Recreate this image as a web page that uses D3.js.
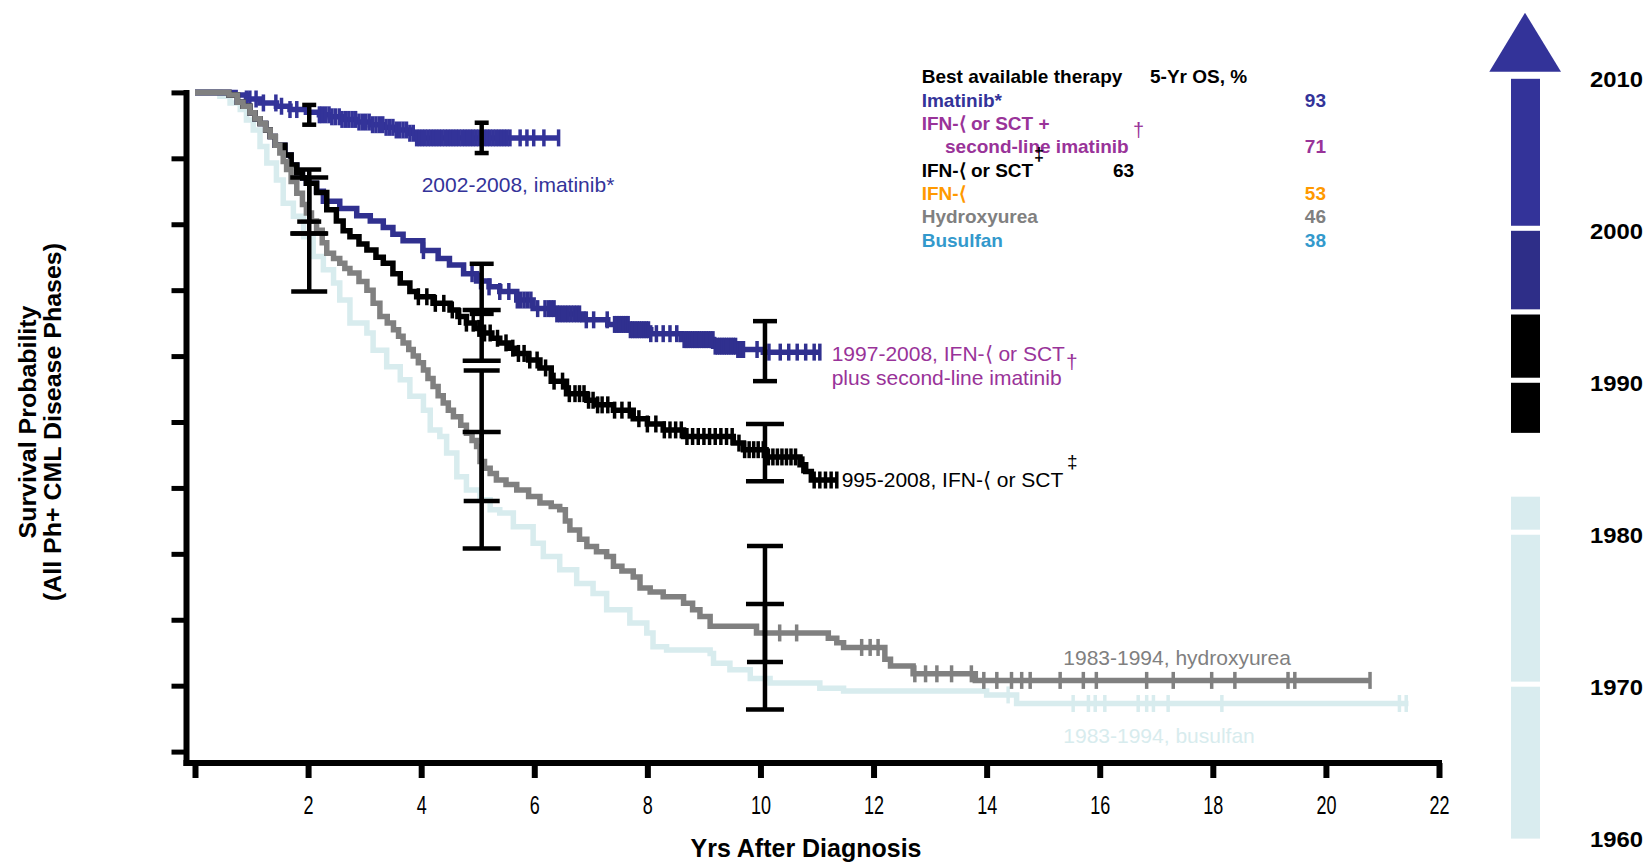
<!DOCTYPE html>
<html><head><meta charset="utf-8">
<script src="https://cdn.jsdelivr.net/npm/d3@7"></script>
<style>
html,body{margin:0;padding:0;background:#fff;}
svg{display:block;background:#fff;}
text{font-family:"Liberation Sans",Arial,Helvetica,sans-serif;}
</style></head><body>
<svg id="chart" width="1646" height="864"></svg>
<script>
// ---------------- DATA ----------------
const xTicks = [0,2,4,6,8,10,12,14,16,18,20,22];
const xTickLabels = ["","2","4","6","8","10","12","14","16","18","20","22"];
const yTicks = [0,0.1,0.2,0.3,0.4,0.5,0.6,0.7,0.8,0.9,1.0];

// Kaplan-Meier steps: [years, survival]
const imatinibSteps = [[0,1],[0.71,0.996],[0.91,0.99],[1.15,0.984],[1.44,0.979],[1.68,0.974],[1.97,0.97],[2.2,0.966],[2.39,0.963],[2.6,0.959],[2.86,0.955],[3.1,0.951],[3.33,0.947],[3.55,0.943],[3.8,0.938],[3.92,0.931]];
const imatinibEnd = 6.45;
const imatinibCensor = [0.91,0.97,1.08,1.21,1.43,1.53,1.68,1.8,2.2,2.25,2.31,2.37,2.42,2.48,2.55,2.6,2.66,2.72,2.78,2.84,2.9,2.96,3.02,3.08,3.14,3.2,3.26,3.32,3.38,3.44,3.5,3.56,3.62,3.68,3.74,3.8,3.86,3.92,3.97,4.02,4.07,4.12,4.17,4.22,4.27,4.32,4.37,4.42,4.47,4.52,4.57,4.62,4.67,4.72,4.77,4.82,4.87,4.92,4.97,5.02,5.07,5.12,5.17,5.22,5.27,5.32,5.37,5.42,5.47,5.52,5.57,5.75,5.87,5.99,6.17,6.43];

const secondLineSteps = [[0,1],[0.6,0.996],[0.75,0.985],[0.85,0.979],[0.97,0.969],[1.06,0.96],[1.15,0.953],[1.25,0.943],[1.33,0.933],[1.42,0.92],[1.59,0.905],[1.7,0.89],[1.8,0.878],[1.9,0.87],[1.97,0.862],[2.15,0.85],[2.27,0.835],[2.56,0.824],[2.86,0.813],[3.1,0.805],[3.33,0.795],[3.5,0.785],[3.68,0.775],[4.03,0.76],[4.3,0.748],[4.5,0.738],[4.75,0.725],[4.98,0.714],[5.2,0.705],[5.39,0.698],[5.69,0.685],[5.98,0.672],[6.4,0.664],[6.86,0.655],[7.3,0.648],[7.7,0.64],[8.06,0.634],[8.6,0.625],[9.17,0.615],[9.6,0.61],[10.05,0.606]];
const secondLineEnd = 11.05;
const secondLineCensor = [4.04,4.9,5.05,5.2,5.39,5.55,5.7,5.76,5.82,5.88,5.94,6.06,6.19,6.25,6.3,6.35,6.4,6.45,6.5,6.55,6.6,6.65,6.7,6.75,6.8,6.92,7.05,7.29,7.42,7.46,7.5,7.54,7.58,7.62,7.66,7.7,7.74,7.78,7.82,7.86,7.9,7.94,7.98,8.02,8.06,8.16,8.28,8.4,8.52,8.65,8.69,8.72,8.76,8.8,8.84,8.88,8.92,8.96,9.0,9.04,9.08,9.12,9.16,9.2,9.24,9.28,9.32,9.36,9.4,9.44,9.48,9.52,9.56,9.6,9.65,9.7,9.94,10.15,10.35,10.5,10.65,10.8,10.95,11.05];

const ifnSteps = [[0,1],[0.6,0.996],[0.75,0.985],[0.85,0.979],[0.97,0.969],[1.06,0.96],[1.15,0.953],[1.25,0.943],[1.33,0.933],[1.42,0.92],[1.59,0.905],[1.7,0.89],[1.8,0.878],[1.9,0.87],[1.97,0.862],[2.15,0.848],[2.33,0.822],[2.5,0.805],[2.62,0.79],[2.74,0.781],[2.9,0.77],[3.04,0.761],[3.2,0.75],[3.33,0.741],[3.5,0.725],[3.63,0.711],[3.8,0.698],[3.92,0.69],[4.21,0.68],[4.51,0.67],[4.65,0.66],[4.8,0.65],[4.95,0.642],[5.1,0.635],[5.25,0.627],[5.39,0.62],[5.55,0.612],[5.69,0.604],[5.9,0.594],[6.1,0.582],[6.3,0.562],[6.57,0.543],[6.93,0.533],[7.1,0.526],[7.4,0.518],[7.75,0.505],[8.0,0.497],[8.28,0.488],[8.64,0.478],[9.52,0.468],[9.7,0.458],[10.1,0.447],[10.7,0.435],[10.8,0.425],[10.9,0.412]];
const ifnEnd = 11.35;
const ifnCensor = [3.95,4.1,4.25,4.4,4.55,4.68,4.8,4.92,5.02,5.12,5.22,5.35,5.5,5.62,5.72,5.82,5.92,6.05,6.2,6.35,6.5,6.62,6.72,6.8,6.88,6.96,7.04,7.12,7.2,7.3,7.42,7.55,7.68,7.85,8.0,8.15,8.3,8.4,8.5,8.6,8.7,8.8,8.9,9.0,9.1,9.2,9.3,9.4,9.5,9.62,9.72,9.8,9.88,9.96,10.05,10.14,10.22,10.3,10.38,10.46,10.54,10.62,10.75,10.95,11.05,11.15,11.25,11.35];

const hydroxySteps = [[0,1],[0.6,0.996],[0.75,0.985],[0.85,0.979],[0.97,0.969],[1.06,0.96],[1.15,0.953],[1.25,0.943],[1.33,0.933],[1.42,0.92],[1.5,0.908],[1.56,0.895],[1.62,0.883],[1.7,0.865],[1.8,0.847],[1.9,0.83],[1.97,0.817],[2.06,0.805],[2.15,0.791],[2.25,0.772],[2.33,0.756],[2.45,0.748],[2.56,0.741],[2.65,0.733],[2.74,0.726],[2.9,0.713],[3.04,0.7],[3.15,0.68],[3.27,0.66],[3.4,0.65],[3.51,0.64],[3.6,0.63],[3.68,0.62],[3.78,0.61],[3.86,0.6],[3.95,0.59],[4.04,0.579],[4.12,0.566],[4.21,0.554],[4.3,0.54],[4.39,0.529],[4.48,0.518],[4.57,0.508],[4.7,0.495],[4.8,0.483],[4.9,0.472],[4.98,0.463],[5.04,0.44],[5.12,0.43],[5.22,0.422],[5.33,0.412],[5.5,0.405],[5.69,0.397],[5.9,0.387],[6.1,0.377],[6.3,0.372],[6.45,0.367],[6.55,0.35],[6.63,0.336],[6.8,0.322],[6.93,0.311],[7.1,0.303],[7.28,0.296],[7.4,0.281],[7.55,0.274],[7.75,0.265],[7.87,0.248],[8.05,0.242],[8.28,0.235],[8.64,0.225],[8.8,0.215],[8.93,0.205],[9.11,0.19],[9.93,0.18],[11.2,0.172],[11.35,0.165],[11.47,0.158],[12.2,0.14],[12.3,0.13],[12.7,0.118],[13.8,0.108]];
const hydroxyEnd = 20.78;
const hydroxyCensor = [10.34,10.64,11.79,11.94,12.08,12.73,12.92,13.12,13.38,13.73,13.95,14.18,14.44,14.62,14.77,15.3,15.71,15.94,16.83,17.3,17.98,18.39,19.33,19.45,20.78];

const busulfanSteps = [[0,1],[0.44,0.994],[0.62,0.984],[0.8,0.974],[0.91,0.958],[1.03,0.943],[1.15,0.918],[1.27,0.893],[1.44,0.867],[1.56,0.832],[1.74,0.812],[1.92,0.781],[2.09,0.751],[2.27,0.731],[2.45,0.711],[2.56,0.685],[2.74,0.65],[3.04,0.635],[3.15,0.609],[3.39,0.584],[3.63,0.564],[3.8,0.539],[4.04,0.518],[4.16,0.488],[4.33,0.478],[4.45,0.453],[4.63,0.417],[4.8,0.397],[5.04,0.382],[5.22,0.367],[5.39,0.362],[5.63,0.341],[5.98,0.316],[6.16,0.296],[6.45,0.276],[6.75,0.255],[7.04,0.24],[7.28,0.215],[7.69,0.195],[7.99,0.18],[8.1,0.159],[8.34,0.154],[9.11,0.149],[9.17,0.134],[9.46,0.124],[9.82,0.111],[10.17,0.104],[11.05,0.096],[11.47,0.092],[14.0,0.086],[14.53,0.073]];
const busulfanEnd = 21.46;
const busulfanCensor = [14.38,15.53,15.8,15.92,16.09,16.68,16.83,16.95,17.21,18.16,21.3,21.42];

// error bars: [series, years, low, high]
const errorBars = [
  ["imatinib",2.02,0.951,0.981],["imatinib",5.07,0.908,0.954],
  ["second",2.02,0.804,0.883],["ifn",2.02,0.786,0.871],["hydroxy",2.02,0.698,0.786],
  ["second",5.07,0.664,0.740],["ifn",5.07,0.593,0.670],["hydroxy",5.07,0.380,0.578],["busulfan",5.07,0.308,0.485],
  ["second",10.08,0.562,0.653],["ifn",10.08,0.410,0.497],["hydroxy",10.08,0.136,0.312],["busulfan",10.08,0.064,0.224]
];

// legend
const legendHeader = ["Best available therapy","5-Yr OS, %"];
const legendNames = [["Imatinib*"],["IFN-\u27E8 or SCT +","second-line imatinib"],["IFN-\u27E8 or SCT"],["IFN-\u27E8"],["Hydroxyurea"],["Busulfan"]];
const legendOS = [93,71,63,53,46,38];
const legendMarks = ["","\u2020","\u2021","","",""];

// timeline (years)
const timelineSegments = [[2000,2010,"imatinib"],[1994.5,2000,"second"],[1990,1994.5,"ifn"],[1986.7,1990,"ifn"],[1980,1982.5,"busulfan"],[1970,1980,"busulfan"],[1960,1970,"busulfan"]];
const timelineYears = [1960,1970,1980,1990,2000,2010];

// ---------------- STYLE ----------------
const colors = {imatinib:"#333399", second:"#30308f", ifn:"#000000", hydroxy:"#808080", busulfan:"#d8ecee"};
const timelineColors = {imatinib:"#333399", second:"#2e2e88", ifn:"#000000", busulfan:"#d9ecef"};
const legendColors = ["#333399","#993399","#000000","#ff9900","#808080","#3399cc"];
const capWidth = {imatinib:14, second:24, ifn:38, hydroxy:36, busulfan:38};

// ---------------- DRAW ----------------
const svg = d3.select("#chart");
const x = d3.scaleLinear().domain([0,22]).range([195,1439]);
const y = d3.scaleLinear().domain([0,1]).range([751.6,92.4]);

// y axis
const yAxisX = 186.5, xAxisY = 763;
const gy = svg.append("g").attr("transform",`translate(${yAxisX},0)`)
  .call(d3.axisLeft(y).tickValues(yTicks).tickFormat("").tickSize(15).tickSizeOuter(0));
gy.select(".domain").remove();
gy.selectAll(".tick line").attr("stroke","#000").attr("stroke-width",5);
svg.append("line").attr("x1",yAxisX).attr("x2",yAxisX).attr("y1",y(1)-2.5).attr("y2",xAxisY+3)
  .attr("stroke","#000").attr("stroke-width",6);

// x axis
const gx = svg.append("g").attr("transform",`translate(0,${xAxisY})`)
  .call(d3.axisBottom(x).tickValues(xTicks).tickFormat((d,i)=>xTickLabels[i]).tickSize(15).tickSizeOuter(0).tickPadding(18));
gx.select(".domain").remove();
gx.selectAll(".tick line").attr("stroke","#000").attr("stroke-width",6);
gx.attr("font-size",null).attr("font-family",null);
gx.selectAll(".tick text").attr("fill","#000").style("font-size","25px")
  .attr("transform","scale(0.72,1)");
svg.append("line").attr("x1",yAxisX-3).attr("x2",x(22)+3).attr("y1",xAxisY).attr("y2",xAxisY)
  .attr("stroke","#000").attr("stroke-width",6);

// axis titles
svg.append("text").attr("x",806).attr("y",857).attr("text-anchor","middle")
  .attr("font-size",26).attr("font-weight","bold").attr("textLength",231).attr("lengthAdjust","spacingAndGlyphs")
  .text("Yrs After Diagnosis");
const yt = svg.append("g").attr("transform","translate(0,422) rotate(-90)");
yt.append("text").attr("x",0).attr("y",36).attr("text-anchor","middle").attr("font-size",23).attr("font-weight","bold")
  .attr("textLength",233).attr("lengthAdjust","spacingAndGlyphs").text("Survival Probability");
yt.append("text").attr("x",0).attr("y",61).attr("text-anchor","middle").attr("font-size",23).attr("font-weight","bold")
  .attr("textLength",358).attr("lengthAdjust","spacingAndGlyphs").text("(All Ph+ CML Disease Phases)");

// curves
const series = [
  {key:"busulfan", steps:busulfanSteps, end:busulfanEnd, censor:busulfanCensor},
  {key:"imatinib", steps:imatinibSteps, end:imatinibEnd, censor:imatinibCensor},
  {key:"second", steps:secondLineSteps, end:secondLineEnd, censor:secondLineCensor},
  {key:"ifn", steps:ifnSteps, end:ifnEnd, censor:ifnCensor},
  {key:"hydroxy", steps:hydroxySteps, end:hydroxyEnd, censor:hydroxyCensor}
];
const line = d3.line().x(d=>x(d[0])).y(d=>y(d[1])).curve(d3.curveStepAfter);
const bis = d3.bisector(d=>d[0]).right;
series.forEach(s=>{
  const pts = s.steps.concat([[s.end, s.steps[s.steps.length-1][1]]]);
  const g = svg.append("g");
  g.append("path").attr("d",line(pts)).attr("fill","none").attr("stroke",colors[s.key]).attr("stroke-width",5.5);
  g.selectAll("line.c").data(s.censor).join("line")
    .attr("x1",d=>x(d)).attr("x2",d=>x(d))
    .attr("y1",d=>y(s.steps[bis(s.steps,d)-1][1])-8.5)
    .attr("y2",d=>y(s.steps[bis(s.steps,d)-1][1])+8.5)
    .attr("stroke",colors[s.key]).attr("stroke-width",3.5);
});

// error bars
const eg = svg.append("g").attr("stroke","#000").attr("stroke-width",4.5);
errorBars.forEach(([k,t,lo,hi])=>{
  const cx = x(t), w = capWidth[k]/2;
  eg.append("line").attr("x1",cx).attr("x2",cx).attr("y1",y(hi)).attr("y2",y(lo));
  eg.append("line").attr("x1",cx-w).attr("x2",cx+w).attr("y1",y(hi)).attr("y2",y(hi));
  eg.append("line").attr("x1",cx-w).attr("x2",cx+w).attr("y1",y(lo)).attr("y2",y(lo));
});

// curve labels
function lbl(txt,xx,yy,fill,size){return svg.append("text").attr("x",xx).attr("y",yy).attr("fill",fill).attr("font-size",size||21).text(txt);}
lbl("2002-2008, imatinib*",421.7,191.7,"#333399");
lbl("1997-2008, IFN-\u27E8 or SCT",831.7,360.7,"#993399");
lbl("\u2020",1066,369,"#993399",21);
lbl("plus second-line imatinib",831.7,385,"#993399");
lbl("995-2008, IFN-\u27E8 or SCT",841.7,486.7,"#000");
lbl("\u2021",1067,468,"#000",19);
lbl("1983-1994, hydroxyurea",1063.3,665,"#808080");
lbl("1983-1994, busulfan",1063.3,742.7,"#d8ecee");

// legend
const lg = svg.append("g").attr("font-size",19).attr("font-weight","bold");
const rowH = 23.35, ly0 = 83.3, lx = 921.7, vx = 1326;
lg.append("text").attr("x",lx).attr("y",ly0).text(legendHeader[0]);
lg.append("text").attr("x",1150).attr("y",ly0).text(legendHeader[1]);
let row = 1;
legendNames.forEach((names,i)=>{
  names.forEach((n,j)=>{
    lg.append("text").attr("x",lx + (j>0?23.3:0)).attr("y",ly0+(row+j)*rowH).attr("fill",legendColors[i]).text(n);
  });
  const lastRow = row + names.length - 1;
  if(i===2){
    lg.append("text").attr("x",1113).attr("y",ly0+lastRow*rowH).attr("fill",legendColors[i]).text(legendOS[i]);
  } else {
    lg.append("text").attr("x",vx).attr("y",ly0+lastRow*rowH).attr("text-anchor","end").attr("fill",legendColors[i]).text(legendOS[i]);
  }
  row = lastRow + 1;
});
lg.append("text").attr("x",1133).attr("y",137).attr("fill","#993399").attr("font-weight","normal").attr("font-size",20).text(legendMarks[1]);
lg.append("text").attr("x",1034).attr("y",160).attr("fill","#000").attr("font-size",18).text(legendMarks[2]);

// timeline on the right
const yr = d3.scaleLinear().domain([1960,2010]).range([838.6,78.8]);
const tl = svg.append("g");
tl.selectAll("rect.seg").data(timelineSegments).join("rect")
  .attr("x",1511).attr("width",29)
  .attr("y",d=>yr(d[1])).attr("height",d=>yr(d[0])-yr(d[1]))
  .attr("fill",d=>timelineColors[d[2]]);
const bounds = timelineSegments.map(d=>d[0]).filter(b=>timelineSegments.some(s=>s[1]===b));
tl.selectAll("rect.sep").data(bounds).join("rect")
  .attr("x",1508).attr("width",35).attr("y",d=>yr(d)-5).attr("height",5).attr("fill","#fff");
tl.append("path").attr("d",`M1525,12.7 L1561,71.7 L1489.3,71.7 Z`).attr("fill","#333399");
tl.selectAll("text").data(timelineYears).join("text")
  .attr("x",1590).attr("y",d=>yr(d)).attr("dy","0.36em")
  .attr("font-size",22).attr("font-weight","bold").attr("textLength",53).attr("lengthAdjust","spacingAndGlyphs")
  .text(d=>d);
</script>
</body></html>
